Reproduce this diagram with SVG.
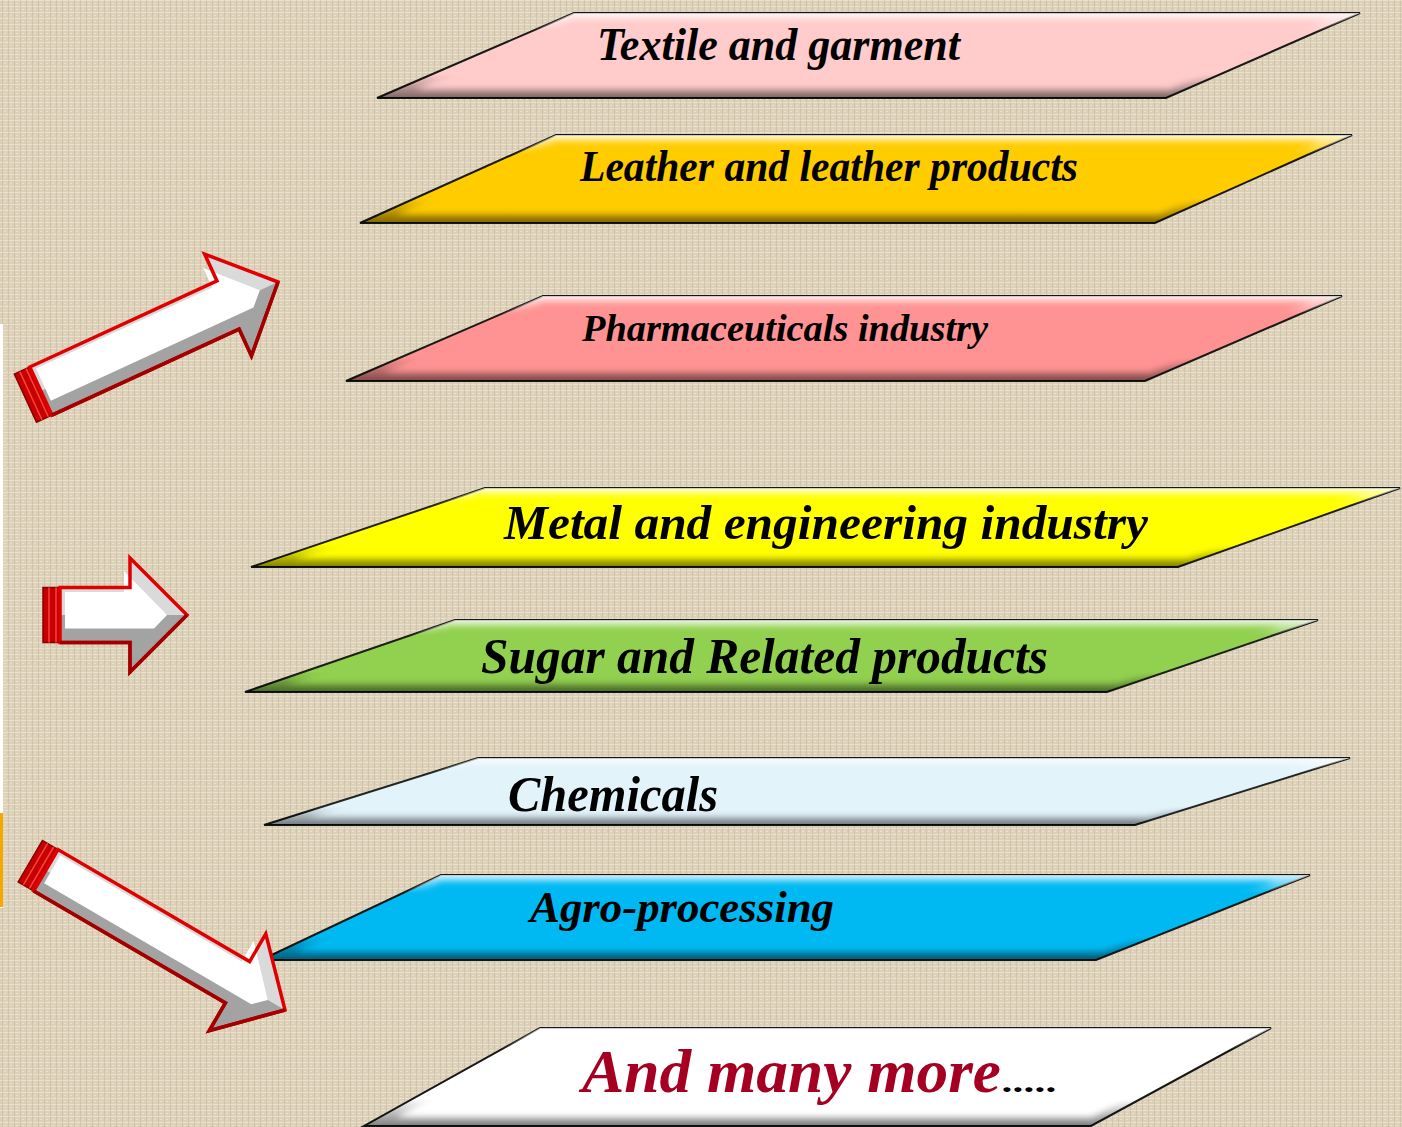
<svg xmlns="http://www.w3.org/2000/svg" width="1402" height="1127" viewBox="0 0 1402 1127">
<defs>
<pattern id="canvas" width="6" height="6" patternUnits="userSpaceOnUse">
<rect width="6" height="6" fill="#DCD1B8"/>
<rect width="6" height="1" fill="#EAE2CF"/>
<rect x="2" width="1" height="6" fill="#C8BCA0" opacity="0.6"/>
<rect x="4" y="3" width="2" height="1" fill="#F0E9D8" opacity="0.7"/>
</pattern>
<linearGradient id="bev" x1="0" y1="0" x2="0" y2="1">
<stop offset="0" stop-color="#ffffff" stop-opacity="0.8"/>
<stop offset="0.22" stop-color="#ffffff" stop-opacity="0"/>
<stop offset="0.72" stop-color="#000000" stop-opacity="0"/>
<stop offset="1" stop-color="#000000" stop-opacity="0.5"/>
</linearGradient>
<filter id="soft" x="-5%" y="-30%" width="110%" height="160%">
<feGaussianBlur stdDeviation="3"/>
</filter>
<style>
.pg{stroke:#151515;stroke-width:2;stroke-linejoin:miter}
.bv{fill:url(#bev)}
.in{filter:url(#soft)}
.lbl{font-family:"Liberation Serif","Times New Roman",serif;font-weight:bold;font-style:italic;fill:#000}
.ar-ext{fill:#C40000;stroke:#8B0000;stroke-width:1.5}
.ar-stripe{stroke:#FF4040;stroke-width:1.5}
.ar-base{fill:#A3A3A3}
.ar-light{fill:#DADADA}
.ar-face{fill:#FFFFFF}
.ar-line{fill:none;stroke:#E00000;stroke-width:3.5;stroke-linejoin:miter}
.ar-dark{fill:none;stroke:#A00000;stroke-width:3.5;stroke-linejoin:miter}
</style>
</defs>
<rect width="1402" height="1127" fill="url(#canvas)"/>
<rect x="0" y="324" width="3" height="584" fill="#FFFFFF"/>
<rect x="0" y="813" width="3" height="94" fill="#F7A800"/>

<g id="node-textile">
<polygon class="pg" points="574,13 1360,13 1166,98 377,98" fill="#FFCBCB"/>
<polygon class="bv" points="574,13 1360,13 1166,98 377,98"/>
<polygon class="in" points="574,20 1328,20 1170,89 415,89" fill="#FFCBCB"/>
<text class="lbl" x="597" y="60" font-size="47" textLength="363" lengthAdjust="spacingAndGlyphs">Textile and garment</text>
</g>

<g id="node-leather">
<polygon class="pg" points="556,135 1352,135 1155,223 360,223" fill="#FFCC00"/>
<polygon class="bv" points="556,135 1352,135 1155,223 360,223"/>
<polygon class="in" points="556,142 1320,142 1159,214 396,214" fill="#FFCC00"/>
<text class="lbl" x="580" y="181" font-size="44" textLength="498" lengthAdjust="spacingAndGlyphs">Leather and leather products</text>
</g>

<g id="node-pharma">
<polygon class="pg" points="543,296 1342,296 1145,381 346,381" fill="#FF9393"/>
<polygon class="bv" points="543,296 1342,296 1145,381 346,381"/>
<polygon class="in" points="543,303 1310,303 1150,372 383,372" fill="#FF9393"/>
<text class="lbl" x="582" y="341" font-size="37" textLength="406" lengthAdjust="spacingAndGlyphs">Pharmaceuticals industry</text>
</g>

<g id="node-metal">
<polygon class="pg" points="485,488 1400,488 1178,567 251,567" fill="#FFFF00"/>
<polygon class="bv" points="485,488 1400,488 1178,567 251,567"/>
<polygon class="in" points="480,495 1364,495 1187,558 294,558" fill="#FFFF00"/>
<text class="lbl" x="504" y="539" font-size="49" textLength="644" lengthAdjust="spacingAndGlyphs">Metal and engineering industry</text>
</g>

<g id="node-sugar">
<polygon class="pg" points="455,620 1318,620 1107,692 245,692" fill="#92D050"/>
<polygon class="bv" points="455,620 1318,620 1107,692 245,692"/>
<polygon class="in" points="451,627 1281,627 1117,683 287,683" fill="#92D050"/>
<text class="lbl" x="481" y="673" font-size="50" textLength="567" lengthAdjust="spacingAndGlyphs">Sugar and Related products</text>
</g>

<g id="node-chemicals">
<polygon class="pg" points="478,758 1350,758 1135,825 264,825" fill="#E2F3FA"/>
<polygon class="bv" points="478,758 1350,758 1135,825 264,825"/>
<polygon class="in" points="472,765 1311,765 1148,816 309,816" fill="#E2F3FA"/>
<text class="lbl" x="508" y="811" font-size="50" textLength="210" lengthAdjust="spacingAndGlyphs">Chemicals</text>
</g>

<g id="node-agro">
<polygon class="pg" points="441,875 1310,875 1096,960 261,960" fill="#00B9F2"/>
<polygon class="bv" points="441,875 1310,875 1096,960 261,960"/>
<polygon class="in" points="442,882 1276,882 1103,951 296,951" fill="#00B9F2"/>
<text class="lbl" x="530" y="922" font-size="44" textLength="304" lengthAdjust="spacingAndGlyphs">Agro-processing</text>
</g>

<g id="node-more">
<polygon class="pg" points="540,1028 1271,1028 1091,1126 364,1126" fill="#FFFFFF"/>
<polygon class="bv" points="540,1028 1271,1028 1091,1126 364,1126"/>
<polygon class="in" points="543,1035 1242,1035 1092,1117 396,1117" fill="#FFFFFF"/>
<text class="lbl" x="582" y="1092" font-size="62" textLength="419" lengthAdjust="spacingAndGlyphs" style="fill:#A50021">And many more</text>
<text class="lbl" x="1003" y="1092" font-size="30" textLength="55" lengthAdjust="spacingAndGlyphs">.....</text>
</g>

<g id="connectors">
<g id="arrow-up" transform="translate(278,282) rotate(-24.7)">
<rect class="ar-ext" x="-278" y="-26.5" width="21" height="53"/>
<line class="ar-stripe" x1="-272" y1="-26.5" x2="-272" y2="26.5"/>
<line class="ar-stripe" x1="-265" y1="-26.5" x2="-265" y2="26.5"/>
<path class="ar-base" d="M0,0 L-55,-56 L-55,-26.5 L-261,-26.5 L-261,26.5 L-55,26.5 L-55,56 Z"/>
<path class="ar-light" d="M-261,-26.5 L-55,-26.5 L-55,-56 L0,0 L-261,0 Z"/>
<path class="ar-face" d="M-256,-22.5 L-62,-22.5 L-62,-44 L-20,0 L-33,13 L-256,13 Z"/>
<path class="ar-line" d="M0,0 L-55,-56 L-55,-26.5 L-261,-26.5 L-261,26.5 L-55,26.5 L-55,56 Z"/>
<path class="ar-dark" d="M-261,26.5 L-55,26.5 L-55,56 L0,0"/>
</g>
<g id="arrow-right" transform="translate(187,615)">
<rect class="ar-ext" x="-144" y="-27.5" width="21" height="55"/>
<line class="ar-stripe" x1="-138" y1="-27.5" x2="-138" y2="27.5"/>
<line class="ar-stripe" x1="-131" y1="-27.5" x2="-131" y2="27.5"/>
<path class="ar-base" d="M0,0 L-57,-57 L-57,-27.5 L-127,-27.5 L-127,27.5 L-57,27.5 L-57,57 Z"/>
<path class="ar-light" d="M-127,-27.5 L-57,-27.5 L-57,-57 L0,0 L-127,0 Z"/>
<path class="ar-face" d="M-122,-23 L-63,-23 L-63,-44 L-20,0 L-33,13.5 L-122,13.5 Z"/>
<path class="ar-line" d="M0,0 L-57,-57 L-57,-27.5 L-127,-27.5 L-127,27.5 L-57,27.5 L-57,57 Z"/>
<path class="ar-dark" d="M-127,27.5 L-57,27.5 L-57,57 L0,0"/>
</g>
<g id="arrow-down" transform="translate(285,1010) rotate(30.3)">
<rect class="ar-ext" x="-295" y="-24" width="21" height="48"/>
<line class="ar-stripe" x1="-289" y1="-24" x2="-289" y2="24"/>
<line class="ar-stripe" x1="-282" y1="-24" x2="-282" y2="24"/>
<path class="ar-base" d="M0,0 L-55,-56 L-55,-24 L-277,-24 L-277,24 L-55,24 L-55,56 Z"/>
<path class="ar-light" d="M-277,-24 L-55,-24 L-55,-56 L0,0 L-277,0 Z"/>
<path class="ar-face" d="M-272,-20 L-62,-20 L-62,-44 L-20,0 L-32,12 L-272,12 Z"/>
<path class="ar-line" d="M0,0 L-55,-56 L-55,-24 L-277,-24 L-277,24 L-55,24 L-55,56 Z"/>
<path class="ar-dark" d="M-277,24 L-55,24 L-55,56 L0,0"/>
</g>
</g>
</svg>
